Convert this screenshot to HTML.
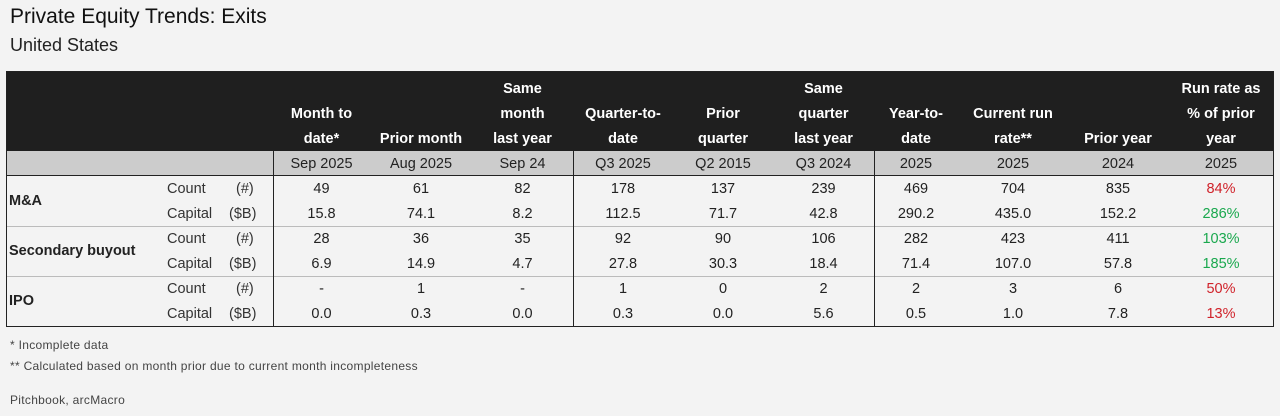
<!DOCTYPE html>
<html><head><meta charset="utf-8"><style>
body{margin:0;width:1280px;height:416px;background:#f3f3f3;font-family:"Liberation Sans",sans-serif;position:relative;overflow:hidden;color:#222}
.a{position:absolute;white-space:nowrap}
.t{left:10px;top:5px;font-size:21px;color:#111}
.s{left:10px;top:35px;font-size:18px;color:#222}
#hd{position:absolute;left:6px;top:71px;width:1268px;height:80px;background:#1f1f1f}
#gr{position:absolute;left:6px;top:151px;width:1268px;height:25px;background:#cccccc;border-bottom:1.5px solid #222;box-sizing:border-box}
#box{position:absolute;left:6px;top:71px;width:1268px;height:256px;border:1px solid #222;box-sizing:border-box}
.h{color:#fff;font-weight:bold;font-size:14.5px;text-align:center;line-height:25px}
.c{text-align:center;font-size:14.5px;line-height:25px}
.vl{position:absolute;width:1px;background:#222;top:151px;height:175px}
.hl{position:absolute;left:6px;width:1268px;height:1px;background:#bbb}
.cat{font-weight:bold;font-size:14.5px;left:9px}
.lb{font-size:14.5px;color:#333}
.f{font-size:12px;color:#444;left:10px;letter-spacing:0.3px}
.r{color:#d0222a}.g{color:#1aa84e}
</style></head><body>
<div class="a t">Private Equity Trends: Exits</div>
<div class="a s">United States</div>
<div id="hd"></div><div id="gr"></div>
<div class="hl" style="top:226px"></div><div class="hl" style="top:276px"></div>
<div class="vl" style="left:273px"></div><div class="vl" style="left:573px"></div><div class="vl" style="left:874px"></div>
<div id="box"></div>
<div id="cols"></div>
<div class="a cat" style="top:193px">M&amp;A</div>
<div class="a cat" style="top:243px">Secondary buyout</div>
<div class="a cat" style="top:293px">IPO</div>
<script>
var L=[273,370,472,573,673,773,874,958,1068,1168,1274];
var H=[["","Month to","date*"],["","","Prior month"],["Same","month","last year"],["","Quarter-to-","date"],["","Prior","quarter"],["Same","quarter","last year"],["","Year-to-","date"],["","Current run","rate**"],["","","Prior year"],["Run rate as","% of prior","year"]];
var G=["Sep 2025","Aug 2025","Sep 24","Q3 2025","Q2 2015","Q3 2024","2025","2025","2024","2025"];
var D=[["49","61","82","178","137","239","469","704","835","84%r"],
["15.8","74.1","8.2","112.5","71.7","42.8","290.2","435.0","152.2","286%g"],
["28","36","35","92","90","106","282","423","411","103%g"],
["6.9","14.9","4.7","27.8","30.3","18.4","71.4","107.0","57.8","185%g"],
["-","1","-","1","0","2","2","3","6","50%r"],
["0.0","0.3","0.0","0.3","0.0","5.6","0.5","1.0","7.8","13%r"]];
var s="";
for(var i=0;i<10;i++){var x=L[i],w=L[i+1]-L[i];
for(var j=0;j<3;j++)s+='<div class="a h" style="left:'+x+'px;width:'+w+'px;top:'+(77+25*j)+'px">'+H[i][j]+'</div>';
s+='<div class="a c" style="left:'+x+'px;width:'+w+'px;top:152px">'+G[i]+'</div>';
for(var r=0;r<6;r++){var v=D[r][i],cl="";if(/[rg]$/.test(v)){cl=v.slice(-1);v=v.slice(0,-1);}
s+='<div class="a c '+cl+'" style="left:'+x+'px;width:'+w+'px;top:'+(177+25*r)+'px">'+v+'</div>';}}
for(var r=0;r<6;r++){var y=177+25*r;
s+='<div class="a lb" style="left:167px;top:'+(y+4)+'px">'+(r%2?"Capital":"Count")+'</div>';
s+='<div class="a lb" style="left:'+(r%2?229:236)+'px;top:'+(y+4)+'px">'+(r%2?"($B)":"(#)")+'</div>';}
document.getElementById("cols").innerHTML=s;
</script>
<div class="a f" style="top:338px">* Incomplete data</div>
<div class="a f" style="top:359px">** Calculated based on month prior due to current month incompleteness</div>
<div class="a f" style="top:393px">Pitchbook, arcMacro</div>
</body></html>
